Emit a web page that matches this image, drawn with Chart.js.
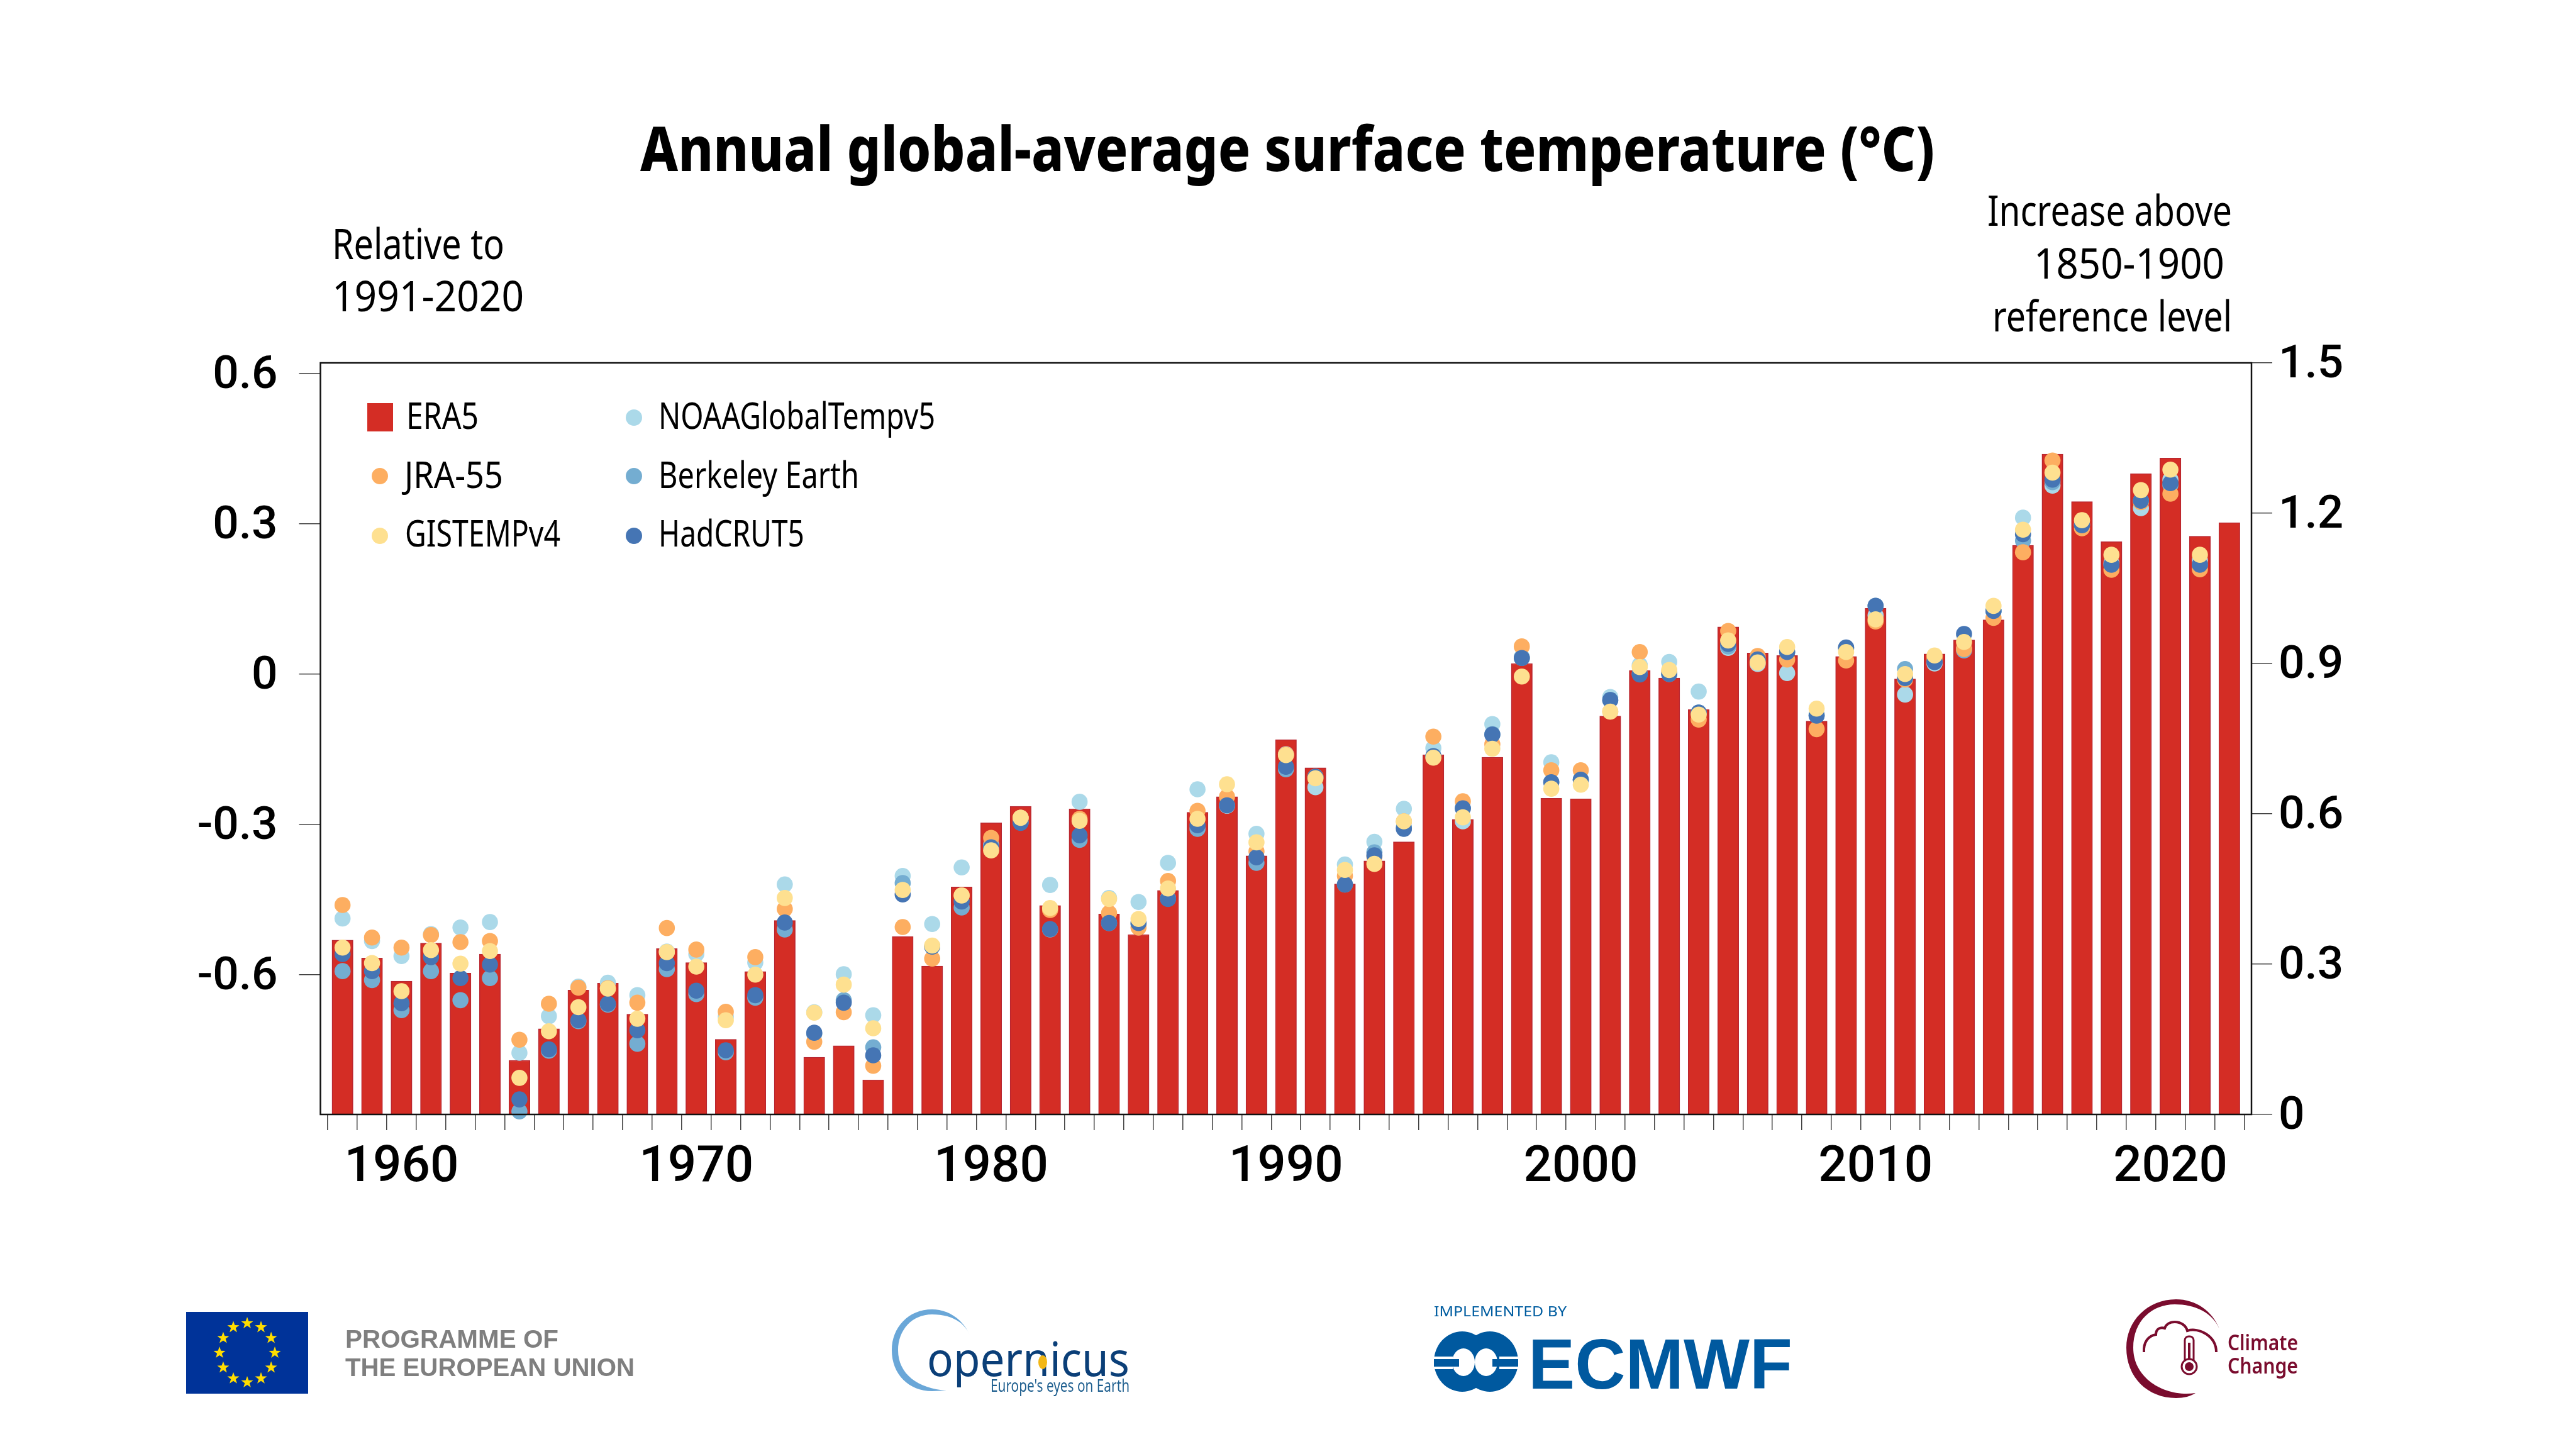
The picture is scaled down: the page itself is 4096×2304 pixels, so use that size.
<!DOCTYPE html>
<html>
<head>
<meta charset="utf-8">
<title>Annual global-average surface temperature</title>
<script src="https://cdn.jsdelivr.net/npm/chart.js@4"></script>
<style>
  html, body { margin: 0; padding: 0; background: #fff; }
  #wrap { position: relative; width: 4096px; height: 2304px; overflow: hidden; }
  #chart { position: absolute; left: 0; top: 0; }
  #overlay { position: absolute; left: 0; top: 0; }
  #overlay text { font-family: "Noto Sans", sans-serif; fill: #000; }
  #overlay .logo { font-family: "Liberation Sans", sans-serif; }
</style>
</head>
<body>
<div id="wrap">
  <canvas id="chart" width="4096" height="2304"></canvas>
  <svg id="overlay" width="4096" height="2304" viewBox="0 0 4096 2304" xmlns="http://www.w3.org/2000/svg">
    <!-- title and sub-titles -->
    <text x="1018" y="272" font-size="98" font-weight="800" textLength="2058" lengthAdjust="spacingAndGlyphs">Annual global-average surface temperature (°C)</text>
    <text x="528" y="412" font-size="67" textLength="274" lengthAdjust="spacingAndGlyphs">Relative to</text>
    <text x="528" y="495" font-size="67" textLength="305" lengthAdjust="spacingAndGlyphs">1991-2020</text>
    <text x="3160" y="359" font-size="67" textLength="389" lengthAdjust="spacingAndGlyphs">Increase above</text>
    <text x="3234" y="443" font-size="67" textLength="303" lengthAdjust="spacingAndGlyphs">1850-1900</text>
    <text x="3168" y="527" font-size="67" textLength="381" lengthAdjust="spacingAndGlyphs">reference level</text>

    <!-- legend -->
    <rect x="584" y="641" width="41" height="45" fill="#D42D25"/>
    <ellipse cx="604" cy="757" rx="13" ry="13" fill="#FDAE61"/>
    <ellipse cx="604" cy="852" rx="13" ry="13" fill="#FEE090"/>
    <ellipse cx="1008" cy="664" rx="13" ry="13" fill="#ABD9E9"/>
    <ellipse cx="1008" cy="757" rx="13" ry="13" fill="#74ADD1"/>
    <ellipse cx="1008" cy="852" rx="13" ry="13" fill="#4575B4"/>
    <text x="646" y="682" font-size="58" textLength="115" lengthAdjust="spacingAndGlyphs">ERA5</text>
    <text x="643" y="776" font-size="58" textLength="157" lengthAdjust="spacingAndGlyphs">JRA-55</text>
    <text x="644" y="869" font-size="58" textLength="247" lengthAdjust="spacingAndGlyphs">GISTEMPv4</text>
    <text x="1047" y="682" font-size="58" textLength="440" lengthAdjust="spacingAndGlyphs">NOAAGlobalTempv5</text>
    <text x="1047" y="776" font-size="58" textLength="319" lengthAdjust="spacingAndGlyphs">Berkeley Earth</text>
    <text x="1047" y="869" font-size="58" textLength="232" lengthAdjust="spacingAndGlyphs">HadCRUT5</text>

    <!-- EU logo -->
    <rect x="296" y="2086" width="194" height="130" fill="#003399"/>
    <g id="euStars" fill="#FFDD00"></g>
    <text class="logo" x="549" y="2143" font-size="41" font-weight="700" style="fill:#7F7F7F" textLength="339" lengthAdjust="spacingAndGlyphs">PROGRAMME OF</text>
    <text class="logo" x="549" y="2188" font-size="41" font-weight="700" style="fill:#7F7F7F" textLength="460" lengthAdjust="spacingAndGlyphs">THE EUROPEAN UNION</text>

    <!-- Copernicus logo -->
    <path d="M1542 2123 C1530 2095 1505 2082 1482 2082 C1445 2082 1418 2110 1418 2147 C1418 2185 1445 2212 1482 2212 L1505 2211 C1460 2208 1428 2185 1428 2147 C1428 2115 1450 2090 1482 2090 C1510 2090 1532 2100 1542 2123 Z" fill="#6AA7D8"/>
    <text x="1474" y="2188" font-size="74" style="fill:#0B3F78" textLength="322" lengthAdjust="spacingAndGlyphs">opernicus</text>
    <ellipse cx="1658" cy="2166" rx="7" ry="11" fill="#F2B716"/>
    <text x="1575" y="2213" font-size="27" style="fill:#1F5F8F" textLength="221" lengthAdjust="spacingAndGlyphs">Europe's eyes on Earth</text>

    <!-- ECMWF logo -->
    <text x="2280" y="2093" font-size="22" style="fill:#005DA0" textLength="211" lengthAdjust="spacingAndGlyphs">IMPLEMENTED BY</text>
    <g fill="#00599F">
      <ellipse cx="2325" cy="2165" rx="45" ry="48"/>
      <ellipse cx="2369" cy="2165" rx="45" ry="48"/>
    </g>
    <g fill="#fff">
      <ellipse cx="2327" cy="2166" rx="18" ry="22"/>
      <ellipse cx="2363" cy="2166" rx="18" ry="22"/>
      <rect x="2280" y="2157" width="30" height="4"/>
      <rect x="2280" y="2173" width="30" height="4"/>
      <rect x="2384" y="2157" width="30" height="4"/>
      <rect x="2384" y="2173" width="30" height="4"/>
    </g>
    <rect x="2280" y="2161" width="40" height="12" fill="#00599F"/>
    <rect x="2373" y="2161" width="41" height="12" fill="#00599F"/>
    <text class="logo" x="2430" y="2208" font-size="114" font-weight="700" style="fill:#00599F" textLength="420" lengthAdjust="spacingAndGlyphs">ECMWF</text>

    <!-- Climate Change logo -->
    <path d="M3529 2113 C3518 2085 3492 2066 3460 2066 C3415 2066 3381 2100 3381 2143 C3381 2190 3415 2223 3460 2223 C3472 2223 3484 2220 3491 2215 C3442 2222 3392 2192 3392 2143 C3392 2100 3422 2074 3458 2074 C3490 2074 3518 2087 3529 2113 Z" fill="#7A0C2E"/>
    <path d="M3409 2150 C3408 2134 3416 2124 3428 2122 C3428 2112 3436 2110 3442 2112 C3444 2106 3450 2102 3458 2102 C3468 2102 3476 2108 3478 2116 C3496 2110 3524 2124 3524 2150" fill="none" stroke="#7A0C2E" stroke-width="4"/>
    <rect x="3474" y="2125" width="14" height="46" rx="6" fill="#fff" stroke="#7A0C2E" stroke-width="3"/>
    <rect x="3479" y="2135" width="4" height="36" fill="#7A0C2E"/>
    <circle cx="3481" cy="2173" r="12" fill="#fff" stroke="#7A0C2E" stroke-width="3"/>
    <circle cx="3481" cy="2173" r="7" fill="#7A0C2E"/>
    <text x="3542" y="2147" font-size="34" font-weight="600" style="fill:#7A0C2E" textLength="112" lengthAdjust="spacingAndGlyphs">Climate</text>
    <text x="3542" y="2184" font-size="34" font-weight="600" style="fill:#7A0C2E" textLength="112" lengthAdjust="spacingAndGlyphs">Change</text>
  </svg>
</div>

<script>
// ============================================
// data (right axis = above 1850-1900)
// ============================================

const years = [1958,1959,1960,1961,1962,1963,1964,1965,1966,1967,1968,1969,1970,1971,1972,1973,1974,1975,1976,1977,
  1978,1979,1980,1981,1982,1983,1984,1985,1986,1987,1988,1989,1990,1991,1992,1993,1994,1995,1996,1997,
  1998,1999,2000,2001,2002,2003,2004,2005,2006,2007,2008,2009,2010,2011,2012,2013,2014,2015,2016,2017,
  2018,2019,2020,2021,2022];

const era5 = [.348,.312,.266,.342,.282,.320,.108,.171,.248,.262,.200,.331,.303,.150,.285,.387,.114,.137,.069,.355,
  .296,.454,.582,.615,.417,.610,.400,.359,.447,.603,.634,.516,.748,.692,.460,.506,.544,.718,.589,.713,
  .900,.631,.630,.795,.886,.871,.808,.973,.921,.916,.785,.914,1.010,.869,.919,.947,.987,1.136,1.318,1.223,
  1.143,1.279,1.310,1.154,1.181];

const jra55 = [.418,.353,.333,.358,.344,.346,.149,.221,.253,.252,.223,.372,.329,.205,.314,.410,.145,.204,.097,.374,
  .311,.437,.552,.592,.408,.590,.402,.373,.466,.606,.634,.525,.718,.674,.476,.514,.585,.754,.625,.739,
  .934,.687,.687,.804,.923,.884,.788,.965,.915,.908,.769,.906,.984,.868,.911,.929,.991,1.122,1.305,1.170,
  1.087,1.222,1.239,1.088,null];

const gistemp = [.333,.302,.246,.328,.301,.326,.073,.166,.214,.251,.191,.324,.295,.188,.279,.432,.203,.259,.172,.448,
  .337,.437,.527,.592,.412,.586,.430,.390,.451,.590,.659,.543,.717,.671,.488,.500,.585,.712,.593,.730,
  .874,.650,.658,.804,.893,.887,.798,.946,.902,.933,.810,.923,.988,.879,.916,.943,1.015,1.167,1.281,1.186,
  1.117,1.246,1.287,1.117,null];

const noaa = [.391,.346,.316,.360,.373,.384,.123,.196,.255,.263,.238,.325,.320,.195,.303,.459,.204,.280,.198,.476,
  .380,.493,.538,.592,.458,.624,.432,.424,.502,.649,.616,.560,.719,.653,.499,.544,.610,.731,.585,.779,
  .913,.703,.668,.833,.897,.903,.844,.931,.899,.881,.798,.929,.996,.838,.900,.929,1.004,1.191,1.255,1.178,
  1.100,1.210,1.267,1.106,null];

const berkeley = [.286,.268,.208,.286,.228,.272,.006,.127,.186,.219,.141,.290,.240,.124,.233,.369,.161,.228,.134,.462,
  .335,.413,.536,.583,.369,.548,.382,.380,.431,.570,.617,.502,.689,.674,.459,.523,.573,.715,.611,.759,
  .911,.663,.668,.827,.880,.879,.802,.934,.908,.923,.796,.931,1.015,.889,.903,.926,1.005,1.145,1.262,1.176,
  1.097,1.225,1.256,1.097,null];

const hadcrut = [.320,.286,.222,.314,.272,.299,.030,.130,.188,.221,.168,.302,.247,.128,.238,.383,.163,.223,.118,.439,
  .335,.425,.533,.582,.370,.557,.382,.382,.430,.577,.617,.513,.694,.674,.459,.517,.570,.715,.611,.758,
  .911,.663,.668,.827,.878,.879,.802,.939,.908,.923,.796,.932,1.015,.871,.903,.959,1.005,1.158,1.267,1.176,
  1.097,1.225,1.260,1.097,null];

const decadeLabels = [1960,1970,1980,1990,2000,2010,2020];
const leftTicks = [0.6,0.3,0,-0.3,-0.6];
const rightTicks = [1.5,1.2,0.9,0.6,0.3,0];

// ============================================
// helpers
// ============================================

const toPoints = values => values.map((v, i) => ({ x: years[i], y: v }));

function markerDataset(label, values, color, order) {
  return {
    type: 'scatter',
    label: label,
    data: toPoints(values),
    yAxisID: 'y1',
    backgroundColor: color,
    borderWidth: 0,
    pointRadius: 12.8,
    pointHoverRadius: 12.8,
    clip: false,
    order: order
  };
}

// tick marks sit between the bars, labels on the decade years
const halfYearTicks = [years[0] - 0.5].concat(years.map(y => y + 0.5));
const isDecade = v => decadeLabels.includes(v);

const xTickFont = { family: 'Roboto, sans-serif', size: 80, weight: '500' };
const yTickFont = { family: 'Roboto, sans-serif', size: 73, weight: '500' };

const frame = {
  id: 'frame',
  // digits sit a little high on the 'middle' baseline, push the y labels down
  beforeDraw(chart) {
    ['y', 'y1'].forEach(id => {
      chart.scales[id].getLabelItems(chart.chartArea).forEach(item => {
        item.options.translation[1] += 5;
      });
    });
  },
  afterDraw(chart) {
    const a = chart.chartArea;
    const ctx = chart.ctx;
    ctx.save();
    ctx.strokeStyle = '#111';
    ctx.lineWidth = 2.5;
    ctx.strokeRect(a.left, a.top, a.right - a.left, a.bottom - a.top);
    ctx.restore();
  }
};

// ============================================
// chart
// ============================================

new Chart(document.getElementById('chart').getContext('2d'), {
  type: 'bar',
  data: {
    datasets: [
      markerDataset('GISTEMPv4', gistemp, '#FEE090', 0),
      markerDataset('HadCRUT5', hadcrut, '#4575B4', 1),
      markerDataset('JRA-55', jra55, '#FDAE61', 2),
      markerDataset('Berkeley Earth', berkeley, '#74ADD1', 3),
      markerDataset('NOAAGlobalTempv5', noaa, '#ABD9E9', 4),
      {
        type: 'bar',
        label: 'ERA5',
        data: toPoints(era5),
        yAxisID: 'y1',
        backgroundColor: '#D42D25',
        borderColor: '#B92630',
        borderWidth: 1.5,
        barThickness: 33.5,
        order: 5
      }
    ]
  },
  options: {
    responsive: false,
    devicePixelRatio: 1,
    animation: false,
    layout: { padding: { left: 209.5, right: 216, top: 577, bottom: 382 } },
    plugins: { legend: { display: false }, tooltip: { enabled: false } },
    scales: {
      x: {
        type: 'linear',
        offset: false,
        min: 1957.25,
        max: 2022.75,
        afterFit(scale) { scale.height = 150; },
        afterBuildTicks(scale) {
          scale.ticks = halfYearTicks.concat(decadeLabels).sort((a, b) => a - b).map(v => ({ value: v }));
        },
        border: { display: false },
        grid: {
          offset: false,
          drawOnChartArea: false,
          tickLength: 25,
          lineWidth: 1.5,
          tickColor: ctx => (ctx.tick && isDecade(ctx.tick.value) ? 'rgba(0,0,0,0)' : '#444')
        },
        ticks: {
          autoSkip: false,
          maxRotation: 0,
          minRotation: 0,
          padding: 13,
          color: '#000',
          font: xTickFont,
          callback: value => (isDecade(value) ? String(value) : '')
        }
      },
      y: {
        position: 'left',
        min: -0.879,
        max: 0.621,
        afterFit(scale) { scale.width = 300; },
        afterBuildTicks(scale) { scale.ticks = leftTicks.map(v => ({ value: v })); },
        border: { display: false },
        grid: { drawOnChartArea: false, tickLength: 34, lineWidth: 1.5, tickColor: '#444' },
        ticks: { padding: 34, color: '#000', font: yTickFont, callback: value => String(value) }
      },
      y1: {
        position: 'right',
        min: 0,
        max: 1.5,
        afterFit(scale) { scale.width = 300; },
        afterBuildTicks(scale) { scale.ticks = rightTicks.map(v => ({ value: v })); },
        border: { display: false },
        grid: { drawOnChartArea: false, tickLength: 33, lineWidth: 1.5, tickColor: '#444' },
        ticks: { padding: 10, color: '#000', font: yTickFont, callback: value => String(value) }
      }
    }
  },
  plugins: [frame]
});

// EU flag stars
const starGroup = document.getElementById('euStars');
for (let i = 0; i < 12; i++) {
  const a = i * Math.PI / 6;
  const cx = 393 + 44 * Math.sin(a);
  const cy = 2151 - 47 * Math.cos(a);
  let pts = '';
  for (let k = 0; k < 10; k++) {
    const r = k % 2 ? 4 : 10;
    const t = k * Math.PI / 5;
    pts += (cx + r * Math.sin(t)) + ',' + (cy - r * Math.cos(t)) + ' ';
  }
  const star = document.createElementNS('http://www.w3.org/2000/svg', 'polygon');
  star.setAttribute('points', pts);
  starGroup.appendChild(star);
}
</script>
</body>
</html>
